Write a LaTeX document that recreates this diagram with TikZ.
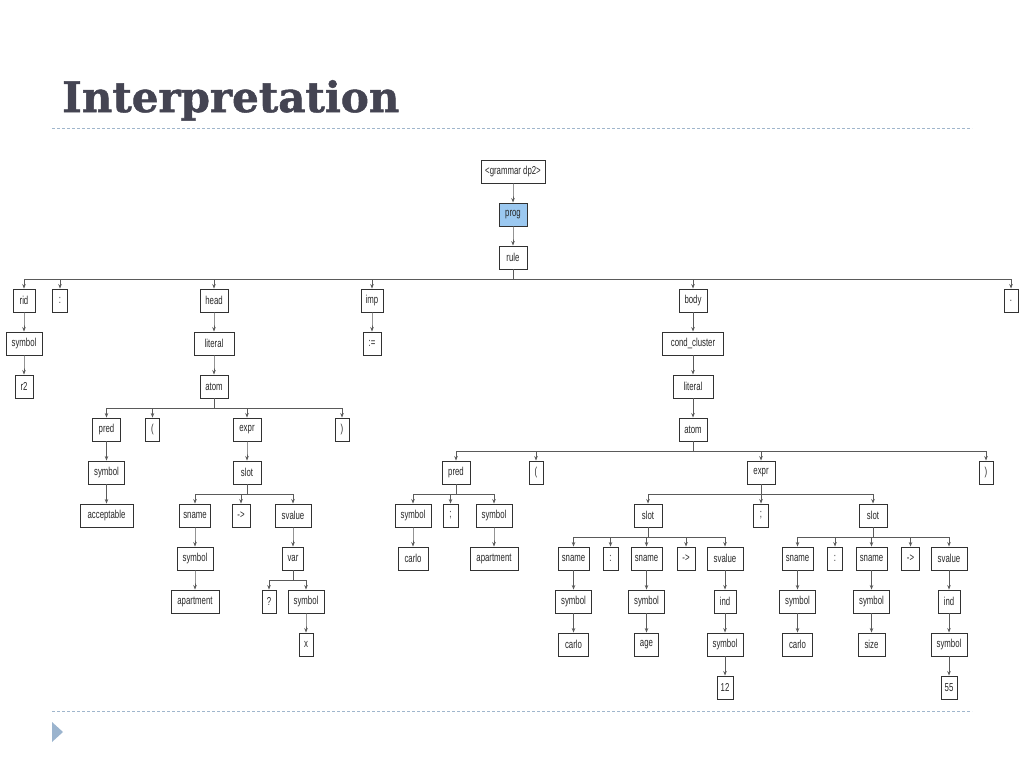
\documentclass[tikz,border=0pt]{standalone}
\usepackage{fontspec}
\usetikzlibrary{arrows.meta}
\newfontfamily\nodefont[FakeStretch=0.68]{Liberation Sans}
\newfontfamily\titlefont[BoldFeatures={FakeBold=1.2}]{DejaVu Serif}
\definecolor{titlecol}{RGB}{68,68,82}
\definecolor{dashcol}{RGB}{160,182,204}
\definecolor{tricol}{RGB}{155,180,206}
\definecolor{progfill}{RGB}{155,200,240}
\definecolor{boxline}{RGB}{50,50,50}
\definecolor{edgecol}{RGB}{90,90,90}
\definecolor{txtcol}{RGB}{40,40,40}
\tikzset{
  box/.style={draw=boxline, line width=0.9pt, fill=white, minimum height=23pt,
    inner xsep=1pt, inner ysep=0pt, font=\nodefont\fontsize{11.5}{12}\selectfont, text=txtcol},
  w/.style={minimum width=#1pt},
  edge/.style={draw=edgecol, line width=0.8pt, -{Stealth[length=4.5pt,width=3.5pt]}},
  sepline/.style={dashcol, line width=1pt, dash pattern=on 3pt off 2pt}
}
\newcommand\kid[2]{\draw[edge] (#1.south) -- ++(0,10) -| (#2.north);}
\begin{document}
\begin{tikzpicture}[x=1pt,y=-1pt]
\useasboundingbox (0,0) rectangle (1024,768);
% title and decorations
\node[anchor=base west, inner sep=0, text=titlecol, font=\titlefont\bfseries\fontsize{42}{44}\selectfont] (title) at (62,112) {Interpretation};
\draw[sepline] (52,128) -- (972,128);
\draw[sepline] (52,711) -- (972,711);
\fill[tricol] (52,722) -- (63,732) -- (52,742) -- cycle;
% rows
\def\ra{171.5}\def\rb{214.5}\def\rc{257.5}\def\rd{300.5}\def\re{343.5}\def\rf{386.5}
\def\rg{429.5}\def\rh{472.5}\def\ri{515.5}\def\rj{558.5}\def\rk{601.5}\def\rl{644.5}\def\rm{687.5}
\node[box,w=64] (g) at (513,\ra) {<grammar dp2>};
\node[box,w=28,fill=progfill] (prog) at (513,\rb) {prog};
\node[box,w=28] (rule) at (513,\rc) {rule};
% row 3
\node[box,w=22] (rid) at (24,\rd) {rid};
\node[box,w=15] (colon1) at (60,\rd) {:};
\node[box,w=28] (head) at (214,\rd) {head};
\node[box,w=22] (imp) at (372,\rd) {imp};
\node[box,w=28] (body) at (693,\rd) {body};
\node[box,w=14] (dot) at (1011,\rd) {.};
% row 4
\node[box,w=36] (sym1) at (24,\re) {symbol};
\node[box,w=40] (lit1) at (214,\re) {literal};
\node[box,w=18] (assign) at (372,\re) {:=};
\node[box,w=61] (cc) at (693,\re) {cond\_cluster};
% row 5
\node[box,w=18] (r2) at (24,\rf) {r2};
\node[box,w=28] (atom1) at (214,\rf) {atom};
\node[box,w=40] (lit2) at (693,\rf) {literal};
% row 6
\node[box,w=28] (pred1) at (106.5,\rg) {pred};
\node[box,w=14] (lp1) at (152.5,\rg) {(};
\node[box,w=28] (expr1) at (247,\rg) {expr};
\node[box,w=14] (rp1) at (342,\rg) {)};
\node[box,w=28] (atom2) at (693,\rg) {atom};
% row 7
\node[box,w=36] (sym2) at (106.5,\rh) {symbol};
\node[box,w=28] (slot1) at (247,\rh) {slot};
\node[box,w=28] (pred2) at (456,\rh) {pred};
\node[box,w=14] (lp2) at (536,\rh) {(};
\node[box,w=28] (expr2) at (761,\rh) {expr};
\node[box,w=14] (rp2) at (986,\rh) {)};
% row 8
\node[box,w=53] (acc) at (106.5,\ri) {acceptable};
\node[box,w=31] (sn1) at (195,\ri) {sname};
\node[box,w=18] (ar1) at (241,\ri) {->};
\node[box,w=36] (sv1) at (293,\ri) {svalue};
\node[box,w=36] (sym3) at (413,\ri) {symbol};
\node[box,w=15] (semi1) at (450.5,\ri) {;};
\node[box,w=36] (sym4) at (494,\ri) {symbol};
\node[box,w=28] (slot2) at (648,\ri) {slot};
\node[box,w=15] (semi2) at (761,\ri) {;};
\node[box,w=28] (slot3) at (873,\ri) {slot};
% row 9
\node[box,w=36] (sym5) at (195,\rj) {symbol};
\node[box,w=21] (var) at (293,\rj) {var};
\node[box,w=30] (carlo1) at (413,\rj) {carlo};
\node[box,w=48] (apt1) at (494,\rj) {apartment};
\node[box,w=31] (sn2) at (573.5,\rj) {sname};
\node[box,w=15] (col2) at (610.5,\rj) {:};
\node[box,w=31] (sn3) at (646.5,\rj) {sname};
\node[box,w=18] (ar2) at (686,\rj) {->};
\node[box,w=36] (sv2) at (725,\rj) {svalue};
\node[box,w=31] (sn4) at (797.5,\rj) {sname};
\node[box,w=15] (col3) at (835,\rj) {:};
\node[box,w=31] (sn5) at (871.5,\rj) {sname};
\node[box,w=18] (ar3) at (910.5,\rj) {->};
\node[box,w=36] (sv3) at (949,\rj) {svalue};
% row 10
\node[box,w=48] (apt2) at (195,\rk) {apartment};
\node[box,w=14] (q) at (269,\rk) {?};
\node[box,w=36] (sym6) at (306,\rk) {symbol};
\node[box,w=36] (sym7) at (573.5,\rk) {symbol};
\node[box,w=36] (sym8) at (646.5,\rk) {symbol};
\node[box,w=22] (ind1) at (725,\rk) {ind};
\node[box,w=36] (sym9) at (797.5,\rk) {symbol};
\node[box,w=36] (sym10) at (871.5,\rk) {symbol};
\node[box,w=22] (ind2) at (949,\rk) {ind};
% row 11
\node[box,w=14] (xx) at (306,\rl) {x};
\node[box,w=30] (carlo2) at (573.5,\rl) {carlo};
\node[box,w=24] (age) at (646.5,\rl) {age};
\node[box,w=36] (sym11) at (725,\rl) {symbol};
\node[box,w=30] (carlo3) at (797.5,\rl) {carlo};
\node[box,w=27] (size) at (871.5,\rl) {size};
\node[box,w=36] (sym12) at (949,\rl) {symbol};
% row 12
\node[box,w=16] (n12) at (725,\rm) {12};
\node[box,w=16] (n55) at (949,\rm) {55};
% edges
\kid{g}{prog}\kid{prog}{rule}
\foreach \c in {rid,colon1,head,imp,body,dot} {\kid{rule}{\c}}
\kid{rid}{sym1}\kid{sym1}{r2}
\kid{head}{lit1}\kid{lit1}{atom1}
\foreach \c in {pred1,lp1,expr1,rp1} {\kid{atom1}{\c}}
\kid{pred1}{sym2}\kid{sym2}{acc}
\kid{expr1}{slot1}
\foreach \c in {sn1,ar1,sv1} {\kid{slot1}{\c}}
\kid{sn1}{sym5}\kid{sym5}{apt2}
\kid{sv1}{var}
\foreach \c in {q,sym6} {\kid{var}{\c}}
\kid{sym6}{xx}
\kid{imp}{assign}
\kid{body}{cc}\kid{cc}{lit2}\kid{lit2}{atom2}
\foreach \c in {pred2,lp2,expr2,rp2} {\kid{atom2}{\c}}
\foreach \c in {sym3,semi1,sym4} {\kid{pred2}{\c}}
\kid{sym3}{carlo1}\kid{sym4}{apt1}
\foreach \c in {slot2,semi2,slot3} {\kid{expr2}{\c}}
\foreach \c in {sn2,col2,sn3,ar2,sv2} {\kid{slot2}{\c}}
\kid{sn2}{sym7}\kid{sym7}{carlo2}
\kid{sn3}{sym8}\kid{sym8}{age}
\kid{sv2}{ind1}\kid{ind1}{sym11}\kid{sym11}{n12}
\foreach \c in {sn4,col3,sn5,ar3,sv3} {\kid{slot3}{\c}}
\kid{sn4}{sym9}\kid{sym9}{carlo3}
\kid{sn5}{sym10}\kid{sym10}{size}
\kid{sv3}{ind2}\kid{ind2}{sym12}\kid{sym12}{n55}
\end{tikzpicture}
\end{document}
